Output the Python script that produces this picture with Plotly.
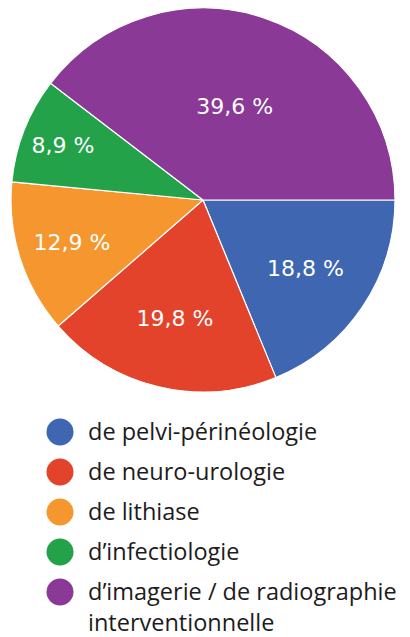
import plotly.graph_objects as go

categories = ["de pelvi-périnéologie", "de neuro-urologie", "de lithiase",
              "d’infectiologie", "d’imagerie / de radiographie<br>interventionnelle"]
values = [18.8, 19.8, 12.9, 8.9, 39.6]
colors = ["#3F67B1", "#E2432A", "#F5962F", "#23A249", "#8A3A96"]

W, H = 402, 629  # page has an 8px body margin; figure drawn in page coords minus 8

fig = go.Figure()
fig.add_trace(go.Pie(
    labels=categories, values=values, sort=False, direction="clockwise", rotation=90,
    marker=dict(colors=colors, line=dict(color="white", width=1.2)),
    texttemplate="%{value:.1f} %", textposition="inside", insidetextorientation="horizontal",
    textfont=dict(family="DejaVu Sans", size=22, color="white"),
    domain=dict(x=[3/W, 387/W], y=[1-384/H, 1.0]),
    showlegend=False, hoverinfo="label+value",
))

idx = list(range(len(categories)))
fig.add_trace(go.Scatter(
    x=[52/W*10]*len(categories), y=idx, mode="markers",
    marker=dict(size=27, color=colors), showlegend=False, hoverinfo="skip",
    xaxis="x", yaxis="y",
))
for i, lab in zip(idx, categories):
    fig.add_annotation(x=78/W*10, y=i, xref="x", yref="y", text=lab, showarrow=False,
                       xanchor="left", yanchor="top", align="left", yshift=19,
                       font=dict(family="Open Sans", size=23.5, color="#1E1B1C"))

# legend area: fig y from 384 to 629; row 0 at fig y 424, 40px per row
top, bot = 384, H
span = (bot - top) / 40.0
r0 = -(424 - top) / 40.0
fig.update_layout(
    width=W, height=H, margin=dict(l=0, r=0, t=0, b=0),
    paper_bgcolor="white", plot_bgcolor="white", separators=", ",
    xaxis=dict(domain=[0, 1], range=[0, 10], visible=False, fixedrange=True),
    yaxis=dict(domain=[0, 1-384/H], range=[r0 + span, r0], visible=False, fixedrange=True),
    showlegend=False,
)
fig.write_html("out.html")
